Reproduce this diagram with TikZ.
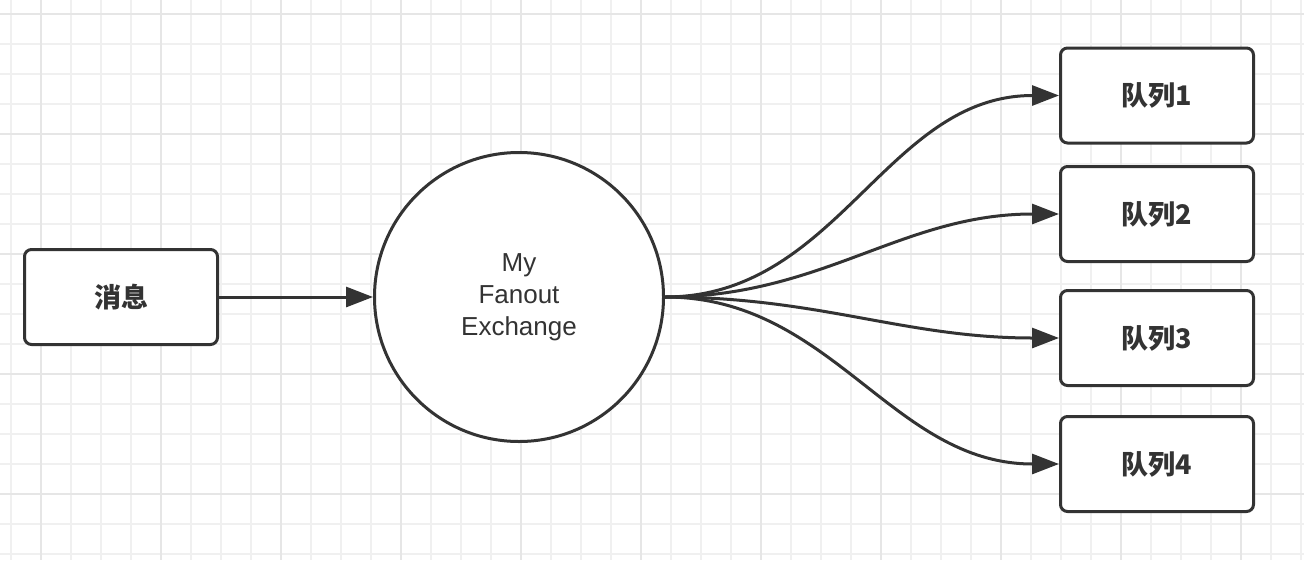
\documentclass[tikz,border=0pt]{standalone}
\usepackage{fontspec}
\setmainfont{Liberation Sans}
\newfontfamily\cjk{Noto Sans CJK SC}
\usepackage{xcolor}
\usepackage{tikz}
\usetikzlibrary{positioning,arrows.meta,backgrounds,calc}

\definecolor{ink}{HTML}{333333}
\definecolor{gridminor}{HTML}{F0F0F0}
\definecolor{gridmajor}{HTML}{E6E6E6}

\begin{document}
\begin{tikzpicture}[
        x=1pt, y=-1pt,
        box/.style={draw=ink, line width=3pt, rounded corners=7pt, fill=white,
                    minimum width=193pt, minimum height=95pt, inner sep=0pt,
                    font=\cjk\bfseries\fontsize{27}{30}\selectfont, text=ink},
        exch/.style={circle, draw=ink, line width=3pt, fill=white,
                     minimum size=289pt, inner sep=0pt, align=center,
                     font=\fontsize{26}{32}\selectfont, text=ink},
        link/.style={draw=ink, line width=3pt,
                     -{Triangle[length=27pt, width=20pt]}}
    ]
    % ---- Background grid ----
    \fill[white] (0,0) rectangle (1304,560);
    \useasboundingbox (0,0) rectangle (1304,560);
    \foreach \gx in {11,41,...,1301}
        \draw[gridminor, line width=2pt] (\gx,0) -- (\gx,560);
    \foreach \gy in {14,44,...,554}
        \draw[gridminor, line width=2pt] (0,\gy) -- (1304,\gy);
    \foreach \gx in {41,161,...,1301}
        \draw[gridmajor, line width=2pt] (\gx,0) -- (\gx,560);
    \foreach \gy in {14,134,...,554}
        \draw[gridmajor, line width=2pt] (0,\gy) -- (1304,\gy);

    % ---- Producer and exchange ----
    \node[box] (msg) at (121,297) {消息};
    \node[exch] (fanout) at (519,297) {My\\Fanout\\Exchange};

    % ---- Queues ----
    \node[box] (queue1) at (1157,95.5) {队列1};
    \node[box] (queue2) at (1157,214) {队列2};
    \node[box] (queue3) at (1157,338) {队列3};
    \node[box] (queue4) at (1157,464) {队列4};

    % ---- Connectors ----
    \draw[link] (msg.east) -- (fanout.west);
    \foreach \q in {1,...,4}
        \draw[link] (fanout.east) to[out=0, in=180] (queue\q.west);
\end{tikzpicture}
\end{document}
